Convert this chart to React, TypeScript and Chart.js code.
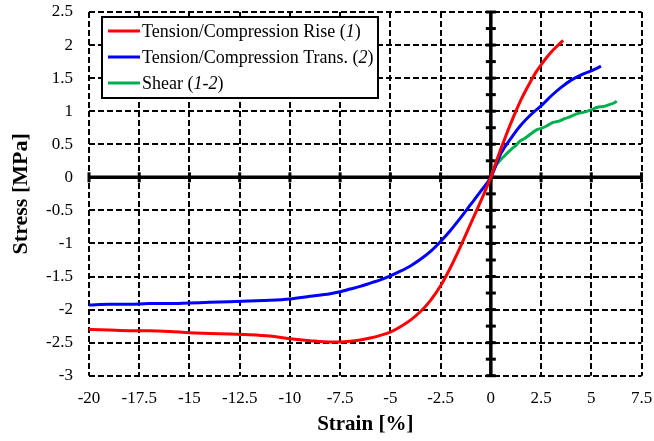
import React, { useEffect, useRef } from "react";
import { Chart, registerables } from "chart.js";

Chart.register(...registerables);

// Tension/compression along the rise direction (1)
const riseStrain = [-20, -19, -18, -17, -16, -15, -14, -13, -12, -11, -10, -9, -8, -7.5, -7, -6.5, -6, -5.5, -5, -4.5, -4, -3.5, -3, -2.5, -2, -1.5, -1, -0.5, 0, 0.25, 0.5, 0.75, 1, 1.25, 1.5, 1.75, 2, 2.25, 2.5, 2.75, 3, 3.25, 3.6];
const riseStress = [-2.3, -2.31, -2.32, -2.32, -2.33, -2.35, -2.36, -2.37, -2.38, -2.4, -2.44, -2.47, -2.49, -2.49, -2.48, -2.46, -2.43, -2.39, -2.34, -2.26, -2.16, -2.03, -1.86, -1.64, -1.36, -1.04, -0.7, -0.36, 0, 0.22, 0.43, 0.63, 0.82, 1.0, 1.17, 1.32, 1.46, 1.59, 1.7, 1.8, 1.89, 1.97, 2.07];

// Tension/compression along the transverse direction (2)
const transStrain = [-20, -19, -18, -17, -16, -15, -14, -13, -12, -11, -10, -9, -8, -7.5, -7, -6.5, -6, -5.5, -5, -4.5, -4, -3.5, -3, -2.5, -2, -1.5, -1, -0.5, 0, 0.5, 1, 1.5, 2, 2.5, 3, 3.5, 4, 4.5, 5, 5.48];
const transStress = [-1.93, -1.92, -1.92, -1.91, -1.91, -1.9, -1.89, -1.88, -1.87, -1.86, -1.84, -1.8, -1.76, -1.73, -1.69, -1.65, -1.6, -1.55, -1.49, -1.42, -1.34, -1.24, -1.12, -0.97, -0.8, -0.61, -0.41, -0.21, 0, 0.36, 0.59, 0.79, 0.95, 1.08, 1.23, 1.36, 1.47, 1.55, 1.61, 1.68];

// In-plane shear (1-2)
const shearStrain = [0, 0.1, 0.3, 0.5, 0.8, 1.0, 1.2, 1.46, 1.7, 2.0, 2.3, 2.5, 2.8, 3.1, 3.4, 3.7, 3.9, 4.12, 4.4, 4.7, 5.0, 5.3, 5.6, 5.9, 6.1, 6.27];
const shearStress = [0, 0.1, 0.2, 0.27, 0.36, 0.42, 0.47, 0.55, 0.59, 0.66, 0.72, 0.74, 0.78, 0.83, 0.85, 0.89, 0.91, 0.94, 0.97, 0.99, 1.02, 1.06, 1.07, 1.1, 1.12, 1.15];

const xTicks = [-20, -17.5, -15, -12.5, -10, -7.5, -5, -2.5, 0, 2.5, 5, 7.5];
const yTicks = [-3, -2.5, -2, -1.5, -1, -0.5, 0, 0.5, 1, 1.5, 2, 2.5];
const yAxisMarks = [-3, -2.75, -2.5, -2.25, -2, -1.75, -1.5, -1.25, -1, -0.75, -0.5, -0.25, 0, 0.25, 0.5, 0.75, 1, 1.25, 1.5, 1.75, 2, 2.25, 2.5];

type Seg = { t: string; italic?: boolean };
const legendItems: { color: string; parts: Seg[] }[] = [
  { color: "#ff0000", parts: [{ t: "Tension/Compression Rise (" }, { t: "1", italic: true }, { t: ")" }] },
  { color: "#0000ff", parts: [{ t: "Tension/Compression Trans. (" }, { t: "2", italic: true }, { t: ")" }] },
  { color: "#00b050", parts: [{ t: "Shear (" }, { t: "1", italic: true }, { t: "-" }, { t: "2", italic: true }, { t: ")" }] },
];

const serif = "'Liberation Serif', 'Times New Roman', serif";

const pairs = (xs: number[], ys: number[]) => xs.map((x, i) => ({ x, y: ys[i] }));

const gridPlugin = {
  id: "dashedGrid",
  beforeDatasetsDraw(chart: any) {
    const { ctx, chartArea, scales } = chart;
    const { left, right, top, bottom } = chartArea;
    const xs = scales.x;
    const ys = scales.y;
    ctx.save();
    ctx.strokeStyle = "#000";
    ctx.lineWidth = 2;
    ctx.setLineDash([6, 3]);
    xTicks.forEach((v) => {
      const px = Math.round(xs.getPixelForValue(v));
      ctx.beginPath();
      ctx.moveTo(px, top);
      ctx.lineTo(px, bottom);
      ctx.stroke();
    });
    yTicks.forEach((v) => {
      const py = Math.round(ys.getPixelForValue(v));
      ctx.beginPath();
      ctx.moveTo(left, py);
      ctx.lineTo(right, py);
      ctx.stroke();
    });
    ctx.setLineDash([]);
    // heavy zero axes
    const x0 = xs.getPixelForValue(0);
    const y0 = ys.getPixelForValue(0);
    ctx.lineWidth = 3.5;
    ctx.beginPath();
    ctx.moveTo(left, y0);
    ctx.lineTo(right, y0);
    ctx.moveTo(x0, top);
    ctx.lineTo(x0, bottom);
    ctx.stroke();
    ctx.lineWidth = 3;
    xTicks.forEach((v) => {
      const px = xs.getPixelForValue(v);
      ctx.beginPath();
      ctx.moveTo(px, y0 - 5);
      ctx.lineTo(px, y0 + 5);
      ctx.stroke();
    });
    yAxisMarks.forEach((v) => {
      const py = ys.getPixelForValue(v);
      ctx.beginPath();
      ctx.moveTo(x0 - 5, py);
      ctx.lineTo(x0 + 5, py);
      ctx.stroke();
    });
    ctx.restore();
  },
};

const legendPlugin = {
  id: "boxLegend",
  afterDraw(chart: any) {
    const { ctx } = chart;
    const bx = 102;
    const by = 17;
    const bw = 276;
    const bh = 81;
    ctx.save();
    ctx.fillStyle = "#fff";
    ctx.fillRect(bx, by, bw, bh);
    ctx.strokeStyle = "#000";
    ctx.lineWidth = 2;
    ctx.strokeRect(bx, by, bw, bh);
    legendItems.forEach((item, i) => {
      const y = 31 + i * 26;
      ctx.strokeStyle = item.color;
      ctx.lineWidth = 3;
      ctx.beginPath();
      ctx.moveTo(108, y);
      ctx.lineTo(140, y);
      ctx.stroke();
      let x = 142;
      ctx.fillStyle = "#000";
      ctx.textBaseline = "middle";
      ctx.textAlign = "left";
      item.parts.forEach((p) => {
        ctx.font = `${p.italic ? "italic " : ""}18px ${serif}`;
        ctx.fillText(p.t, x, y + 1);
        x += ctx.measureText(p.t).width;
      });
    });
    ctx.restore();
  },
};

export default function App() {
  const ref = useRef<HTMLCanvasElement>(null);

  useEffect(() => {
    if (!ref.current) return;
    const chart = new Chart(ref.current, {
      type: "scatter",
      data: {
        datasets: [
          { label: "Rise", data: pairs(riseStrain, riseStress), borderColor: "#ff0000", borderWidth: 3, showLine: true, pointRadius: 0, cubicInterpolationMode: "monotone" },
          { label: "Trans", data: pairs(transStrain, transStress), borderColor: "#0000ff", borderWidth: 3, showLine: true, pointRadius: 0, cubicInterpolationMode: "monotone" },
          { label: "Shear", data: pairs(shearStrain, shearStress), borderColor: "#00b050", borderWidth: 3, showLine: true, pointRadius: 0, cubicInterpolationMode: "monotone" },
        ],
      },
      options: {
        responsive: false,
        animation: false,
        layout: { padding: { top: 12, right: 12.5, left: 0, bottom: 0 } },
        plugins: { legend: { display: false }, tooltip: { enabled: false } },
        scales: {
          x: {
            type: "linear",
            min: -20,
            max: 7.5,
            afterBuildTicks: (s: any) => { s.ticks = xTicks.map((v) => ({ value: v })); },
            afterFit: (s: any) => { s.height = 65.3; s.paddingLeft = 0; s.paddingRight = 0; },
            grid: { display: false, drawTicks: false },
            border: { display: false },
            ticks: { color: "#000", font: { family: serif, size: 17 }, padding: 13, maxRotation: 0, autoSkip: false, callback: (v: any) => String(v) },
            title: { display: true, text: "Strain [%]", color: "#000", font: { family: serif, size: 21, weight: "bold" }, padding: { top: 0, bottom: 4 } },
          },
          y: {
            type: "linear",
            min: -3,
            max: 2.5,
            afterBuildTicks: (s: any) => { s.ticks = yTicks.map((v) => ({ value: v })); },
            afterFit: (s: any) => { s.width = 89; s.paddingTop = 0; s.paddingBottom = 0; },
            grid: { display: false, drawTicks: false },
            border: { display: false },
            ticks: { color: "#000", font: { family: serif, size: 17 }, padding: 16, autoSkip: false, callback: (v: any) => String(v) },
            title: { display: true, text: "Stress [MPa]", color: "#000", font: { family: serif, size: 22, weight: "bold" }, padding: { top: 8, bottom: 0 } },
          },
        },
      },
      plugins: [gridPlugin, legendPlugin],
    } as any);
    return () => chart.destroy();
  }, []);

  return (
    <div style={{ position: "absolute", left: 0, top: 0, width: 654, height: 441, background: "#fff" }}>
      <canvas ref={ref} width={654} height={441} />
    </div>
  );
}
